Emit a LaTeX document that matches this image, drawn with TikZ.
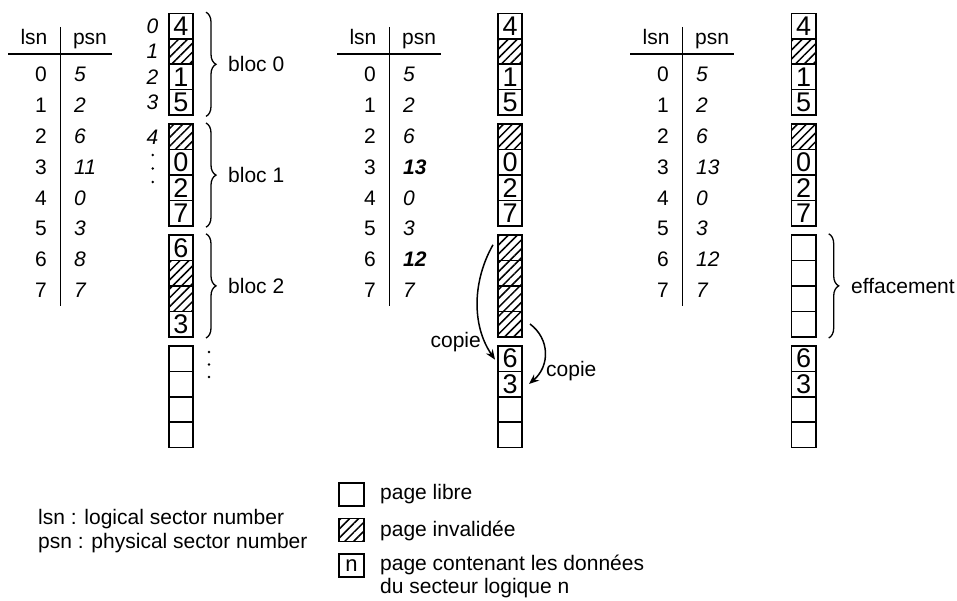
\documentclass[tikz,border=0pt]{standalone}
\usepackage{fontspec}
\setmainfont{Liberation Sans}
\usetikzlibrary{patterns.meta,decorations.pathreplacing,arrows.meta,calc}

\newcommand\drawtable[3]{%
  \node[txt, anchor=base] (#2-hl) at (34+#1,45) {lsn};
  \node[txt, anchor=base] (#2-hp) at (90+#1,45) {psn};
  \draw[rulel] (8+#1,54) -- (112+#1,54);
  \draw[rulel] (60.7+#1,27) -- (60.7+#1,306);
  \foreach \p [count=\i from 0] in {#3}{
    \node[txt, anchor=base] (#2-l\i) at (41+#1, 82+30.8*\i) {\i};
    \node[txt, anchor=base west] (#2-p\i) at (74+#1, 82+30.8*\i) {\textit{\p}};
  }%
}
\def\Hs{H}\def\Es{E}
\newcommand\drawcolumn[3]{%
  \foreach \v [count=\i from 0] in {#3}{
    \pgfmathtruncatemacro\bb{int(\i/4)}
    \pgfmathtruncatemacro\cc{mod(\i,4)}
    \pgfmathsetmacro\yy{26.2+110.8*\bb+25.4*\cc}
    \edef\vv{\v}
    \ifx\vv\Hs \node[hatched] (#1-\bb-\cc) at (#2,\yy) {};
    \else\ifx\vv\Es \node[cellbox] (#1-\bb-\cc) at (#2,\yy) {};
    \else \node[cellbox] (#1-\bb-\cc) at (#2,\yy) {\v};
    \fi\fi
  }%
}

\begin{document}
\begin{tikzpicture}[x=1pt,y=-1pt,
  txt/.style={font=\fontsize{21}{25}\selectfont, inner sep=0pt},
  cellbox/.style={draw, line width=1.6pt, minimum width=24.4pt, minimum height=25.4pt, inner sep=0pt, font=\fontsize{27}{30}\selectfont},
  hatchpat/.style={pattern={Lines[angle=45,distance=6.3pt,line width=1.5pt]}},
  hatched/.style={cellbox, hatchpat},
  brc/.style={decorate, decoration={brace, amplitude=10pt}, line width=1.3pt},
  arr/.style={line width=1.5pt, -{Stealth[length=10pt,width=8pt]}},
  rulel/.style={line width=1.5pt},
  lgbox/.style={draw, line width=1.6pt, minimum width=25pt, minimum height=23pt, inner sep=0pt, font=\fontsize{22}{25}\selectfont}
]
\useasboundingbox (0,0) rectangle (957,601);

% tables
\drawtable{0}{ta}{5,2,6,11,0,3,8,7}
\drawtable{329}{tb}{5,2,6,\textbf{13},0,3,\textbf{12},7}
\drawtable{622}{tc}{5,2,6,13,0,3,12,7}

% columns of pages
\drawcolumn{ca}{181}{4,H,1,5,H,0,2,7,6,H,H,3,E,E,E,E}
\drawcolumn{cb}{510}{4,H,1,5,H,0,2,7,H,H,H,H,6,3,E,E}
\drawcolumn{cc}{803.7}{4,H,1,5,H,0,2,7,E,E,E,E,6,3,E,E}

% page indices left of first column
\foreach \t/\yy [count=\k] in {0/26.2,1/51.6,2/77,3/102.4,4/137}{
  \node[txt] (idx\k) at (152.5,\yy) {\textit{\t}};
}
\foreach \yy in {155,168.5,182}{ \fill (152.7,\yy) circle (1.4); }
\foreach \yy in {352,364.5,377}{ \fill (209,\yy) circle (1.4); }

% braces
\draw[brc] ($(ca-0-0.north east)+(12,-0.5)$) coordinate (b0a) -- ($(ca-0-3.south east)+(12,0.5)$) coordinate (b0b);
\draw[brc] ($(ca-1-0.north east)+(12,-0.5)$) coordinate (b1a) -- ($(ca-1-3.south east)+(12,0.5)$) coordinate (b1b);
\draw[brc] ($(ca-2-0.north east)+(12,-0.5)$) coordinate (b2a) -- ($(ca-2-3.south east)+(12,0.5)$) coordinate (b2b);
\draw[brc] ($(cc-2-0.north east)+(12,-0.5)$) coordinate (b3a) -- ($(cc-2-3.south east)+(12,0.5)$) coordinate (b3b);
\node[txt, anchor=west] (bl0) at (228,64.3) {bloc 0};
\node[txt, anchor=west] (bl1) at (228,175.1) {bloc 1};
\node[txt, anchor=west] (bl2) at (228,285.9) {bloc 2};
\node[txt, anchor=west] (eff) at (851,285.9) {effacement};

% copy arrows
\draw[arr] ($(cb-2-0.west)+(-4,-3)$) .. controls +(-20,35) and +(-24,-35) .. ($(cb-3-0.west)+(-2,1)$);
\draw[arr] ($(cb-2-3.east)+(7,0)$) .. controls +(20,15) and +(21,-18) .. ($(cb-3-1.east)+(6,0)$);
\node[txt, anchor=base east] (cp1) at (481,347) {copie};
\node[txt, anchor=base west] (cp2) at (546,376.5) {copie};

% legend
\node[txt, anchor=base west] (lg-lsn) at (38,524) {lsn : logical sector number};
\node[txt, anchor=base west] (lg-psn) at (38,548) {psn : physical sector number};
\node[lgbox] (lg1) at (351.5,494.5) {};
\node[lgbox, hatchpat] (lg2) at (351.5,530) {};
\node[lgbox] (lg3) at (351.5,565.5) {n};
\node[txt, anchor=base west] (lt1) at (380,499) {page libre};
\node[txt, anchor=base west] (lt2) at (380,536) {page invalidée};
\node[txt, anchor=base west] (lt3) at (380,570) {page contenant les données};
\node[txt, anchor=base west] (lt4) at (380,593) {du secteur logique n};
\end{tikzpicture}
\end{document}
